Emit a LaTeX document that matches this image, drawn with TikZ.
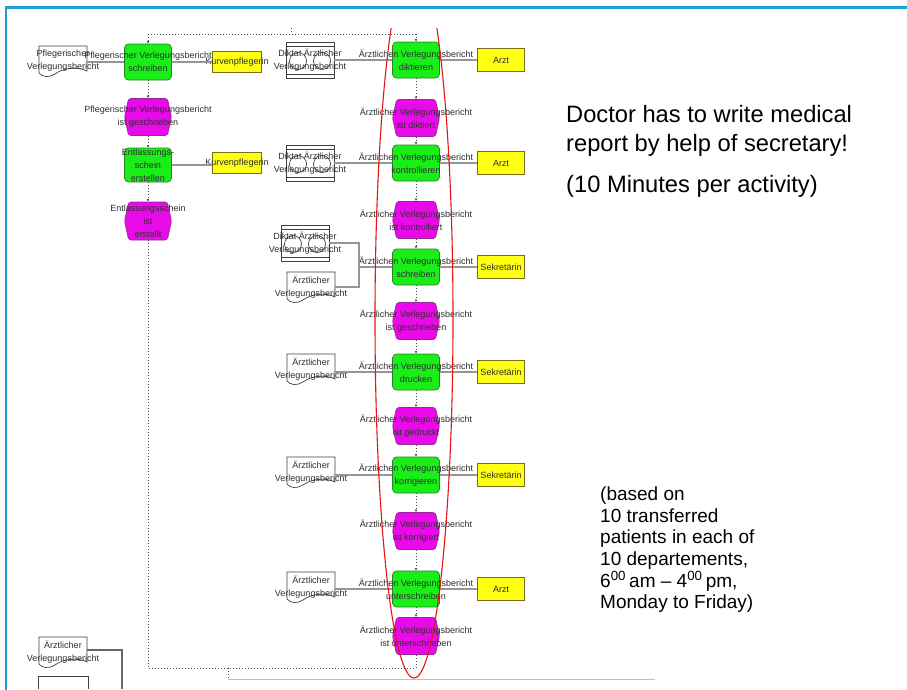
\documentclass[tikz,border=0pt]{standalone}
\usepackage{fontspec}
\setmainfont{Liberation Sans}
\usetikzlibrary{shapes.symbols, arrows.meta}

\definecolor{framecol}{RGB}{28,160,212}
\definecolor{fngreen}{RGB}{25,238,25}
\definecolor{fnedge}{RGB}{40,130,40}
\definecolor{evmag}{RGB}{232,10,232}
\definecolor{evedge}{RGB}{150,40,150}
\definecolor{orgyel}{RGB}{255,255,20}
\definecolor{orgedge}{RGB}{120,110,30}
\definecolor{linkgray}{RGB}{150,150,150}
\definecolor{ringred}{RGB}{228,20,20}

\tikzset{
  lbl/.style={font=\fontsize{9}{13}\selectfont, align=center, text=black!82, inner sep=0pt},
  fnbox/.style={draw=fnedge, fill=fngreen, rounded corners=4pt, minimum width=47pt,
    minimum height=36pt, inner sep=0pt, line width=0.7pt},
  evbox/.style={signal, signal to=east and west, signal pointer angle=155, draw=evedge,
    fill=evmag, minimum width=47pt, minimum height=37pt, inner sep=0pt,
    rounded corners=2.5pt, line width=0.7pt},
  orgbox/.style={draw=orgedge, fill=orgyel, minimum width=47pt, minimum height=23pt,
    inner sep=0pt, line width=0.7pt},
  docnode/.style={minimum width=48pt, minimum height=30pt, inner sep=0pt},
  dikbox/.style={draw=black!75, minimum width=48pt, minimum height=36pt, inner sep=0pt,
    line width=0.7pt},
  outline/.style={draw=black!75, line width=0.7pt},
  link/.style={draw=linkgray, line width=1.8pt},
  ctrl/.style={draw=black!70, line width=0.7pt, dash pattern=on 1pt off 2pt},
  ctrlarr/.style={ctrl, -{Latex[length=2.5pt,width=2.6pt]}},
  note/.style={font=\fontsize{23.7}{29}\selectfont, anchor=base west, inner sep=0pt},
  small/.style={font=\fontsize{19}{21.6}\selectfont, anchor=base west, inner sep=0pt},
}

% document symbol: white sheet with a wavy lower edge
\newcommand\docat[4]{%
  \begin{scope}[shift={(#2,#3)}]
    \draw[outline, fill=white] (-24,-15) -- (24,-15) -- (24,10)
      .. controls (14,5) and (0,7) .. (-8,13)
      .. controls (-14,17) and (-21,16) .. (-24,12) -- cycle;
  \end{scope}
  \node[docnode, label={[lbl]center:#4}] (#1) at (#2,#3) {};
}

% dictation symbol: framed box holding a tape with two reels
\newcommand\diktat[4]{%
  \begin{scope}[shift={(#2,#3)}]
    \fill[white] (-24,-18) rectangle (24,18);
    \draw[outline] (-24,-14) -- (24,-14);
    \draw[outline] (-24,14) -- (24,14);
    \draw[outline] (-12,1) circle[radius=8.5pt];
    \draw[outline] (12,1) circle[radius=8.5pt];
  \end{scope}
  \node[dikbox, label={[lbl]center:#4}] (#1) at (#2,#3) {};
}

\begin{document}
\begin{tikzpicture}[x=1pt, y=-1pt]
\useasboundingbox (0,0) rectangle (907,689);
\fill[white] (0,0) rectangle (907,689);

% slide frame
\draw[framecol, line width=2.4pt] (908,7.5) -- (6,7.5) -- (6,690);

% ---------------- nursing branch (left column) ----------------
\docat{pdoc}{63}{61}{Pflegerischer\\Verlegungsbericht}
\node[fnbox, label={[lbl]center:Pflegerischer Verlegungsbericht\\schreiben}] (pf) at (148,62) {};
\node[evbox, label={[lbl]center:Pflegerischer Verlegungsbericht\\ist geschrieben}] (pe) at (148,117) {};
\node[fnbox, minimum height=34pt, label={[lbl]center:Entlassungs-\\schein\\erstellen}] (ef) at (148,165) {};
\node[evbox, minimum height=38pt, label={[lbl]center:Entlassungsschein\\ist\\erstellt}] (ee) at (148,221) {};
\node[orgbox, minimum width=49pt, minimum height=21pt, label={[lbl]center:Kurvenpflegerin}] (ok1) at (237,62) {};
\node[orgbox, minimum width=49pt, minimum height=21pt, label={[lbl]center:Kurvenpflegerin}] (ok2) at (237,163) {};

\draw[link] (pf.west -| pdoc.east) -- (pf.west);
\draw[link] (pf.east) -- (ok1.west);
\draw[link] (ef.east) -- (ok2.west |- ef.east);

% ---------------- medical report branch (middle column) ----------------
\diktat{d1}{310}{60}{Diktat Ärztlicher\\Verlegungsbericht}
\diktat{d2}{310}{163}{Diktat Ärztlicher\\Verlegungsbericht}
\diktat{d3}{305}{243}{Diktat Ärztlicher\\Verlegungsbericht}
\docat{a3}{311}{287}{Ärztlicher\\Verlegungsbericht}
\docat{a4}{311}{369}{Ärztlicher\\Verlegungsbericht}
\docat{a5}{311}{472}{Ärztlicher\\Verlegungsbericht}
\docat{a6}{311}{587}{Ärztlicher\\Verlegungsbericht}
\docat{ab}{63}{652}{Ärztlicher\\Verlegungsbericht}

\node[fnbox, label={[lbl]center:Ärztlichen Verlegungsbericht\\diktieren}] (f1) at (416,60) {};
\node[evbox, label={[lbl]center:Ärztlicher Verlegungsbericht\\ist diktiert}] (e1) at (416,118) {};
\node[fnbox, label={[lbl]center:Ärztlichen Verlegungsbericht\\kontrollieren}] (f2) at (416,163) {};
\node[evbox, label={[lbl]center:Ärztlicher Verlegungsbericht\\ist kontrolliert}] (e2) at (416,220) {};
\node[fnbox, label={[lbl]center:Ärztlichen Verlegungsbericht\\schreiben}] (f3) at (416,267) {};
\node[evbox, label={[lbl]center:Ärztlicher Verlegungsbericht\\ist geschrieben}] (e3) at (416,321) {};
\node[fnbox, label={[lbl]center:Ärztlichen Verlegungsbericht\\drucken}] (f4) at (416,372) {};
\node[evbox, label={[lbl]center:Ärztlicher Verlegungsbericht\\ist gedruckt}] (e4) at (416,426) {};
\node[fnbox, label={[lbl]center:Ärztlichen Verlegungsbericht\\korrigieren}] (f5) at (416,475) {};
\node[evbox, label={[lbl]center:Ärztlicher Verlegungsbericht\\ist korrigiert}] (e5) at (416,531) {};
\node[fnbox, label={[lbl]center:Ärztlichen Verlegungsbericht\\unterschreiben}] (f6) at (416,589) {};
\node[evbox, label={[lbl]center:Ärztlicher Verlegungsbericht\\ist unterschrieben}] (e6) at (416,636) {};

\node[orgbox, label={[lbl]center:Arzt}] (o1) at (501,60) {};
\node[orgbox, label={[lbl]center:Arzt}] (o2) at (501,163) {};
\node[orgbox, label={[lbl]center:Sekretärin}] (o3) at (501,267) {};
\node[orgbox, label={[lbl]center:Sekretärin}] (o4) at (501,372) {};
\node[orgbox, label={[lbl]center:Sekretärin}] (o5) at (501,475) {};
\node[orgbox, label={[lbl]center:Arzt}] (o6) at (501,589) {};

% inputs and performers
\draw[link] (d1.east) -- (f1.west);
\draw[link] (d2.east) -- (f2.west);
\coordinate (j3) at (359,267);
\draw[link] (d3.east) -| (j3);
\draw[link] (a3.east) -| (j3);
\draw[link] (j3) -- (f3.west);
\draw[link] (f4.west -| a4.east) -- (f4.west);
\draw[link] (f5.west -| a5.east) -- (f5.west);
\draw[link] (f6.west -| a6.east) -- (f6.west);
\foreach \i in {1,...,6} { \draw[link] (f\i.east) -- (o\i.west); }
\coordinate (jb) at (122,650);
\coordinate (jbout) at (122,689);
\draw[link, line width=1.2pt, draw=black!60] (ab.east |- jb) -- (jb) -- (jbout);
\draw[outline] (38,689) -- (38,676) -- (88,676) -- (88,689);

% ---------------- control flow ----------------
\coordinate (tl) at (148,34);
\coordinate (tr) at (416,34);
\coordinate (tj) at (291,34);
\coordinate (tin) at (291,28);
\draw[ctrl] (tl) -- (tr);
\draw[ctrl] (tin) -- (tj);
\draw[ctrlarr] (tl) -- (pf.north);
\draw[ctrlarr] (tr) -- (f1.north);
\draw[ctrlarr] (pf.south) -- (pe.north);
\draw[ctrlarr] (pe.south) -- (ef.north);
\draw[ctrlarr] (ef.south) -- (ee.north);
\draw[ctrlarr] (f1.south) -- (e1.north);
\draw[ctrlarr] (e1.south) -- (f2.north);
\draw[ctrlarr] (f2.south) -- (e2.north);
\draw[ctrlarr] (e2.south) -- (f3.north);
\draw[ctrlarr] (f3.south) -- (e3.north);
\draw[ctrlarr] (e3.south) -- (f4.north);
\draw[ctrlarr] (f4.south) -- (e4.north);
\draw[ctrlarr] (e4.south) -- (f5.north);
\draw[ctrlarr] (f5.south) -- (e5.north);
\draw[ctrlarr] (e5.south) -- (f6.north);
\draw[ctrlarr] (f6.south) -- (e6.north);
\coordinate (bl) at (148,668);
\coordinate (br) at (416,668);
\coordinate (bj) at (228,668);
\coordinate (bout) at (228,679);
\draw[ctrl] (ee.south) -- (bl) -- (br) -- (e6.south);
\draw[ctrl] (bj) -- (bout);
\draw[black!25, line width=0.6pt] (228,679) -- (655,679);

% highlight ring round the doctor's activities
\begin{scope}
  \clip (300,28) rectangle (540,689);
  \draw[ringred, line width=1.1pt] (414,319) ellipse [x radius=39pt, y radius=359pt];
\end{scope}

% ---------------- remarks ----------------
\node[note] (n1) at (566,122) {Doctor has to write medical};
\node[note] (n2) at (566,151) {report by help of secretary!};
\node[note] (n3) at (566,192) {(10 Minutes per activity)};

\node[small] (s1) at (600,500) {(based on};
\node[small] (s2) at (600,522) {10 transferred};
\node[small] (s3) at (600,543) {patients in each of};
\node[small] (s4) at (600,565) {10 departements,};
\node[small] (s5) at (600,587) {6\textsuperscript{00}\,am – 4\textsuperscript{00}\,pm,};
\node[small] (s6) at (600,608) {Monday to Friday)};
\end{tikzpicture}
\end{document}
